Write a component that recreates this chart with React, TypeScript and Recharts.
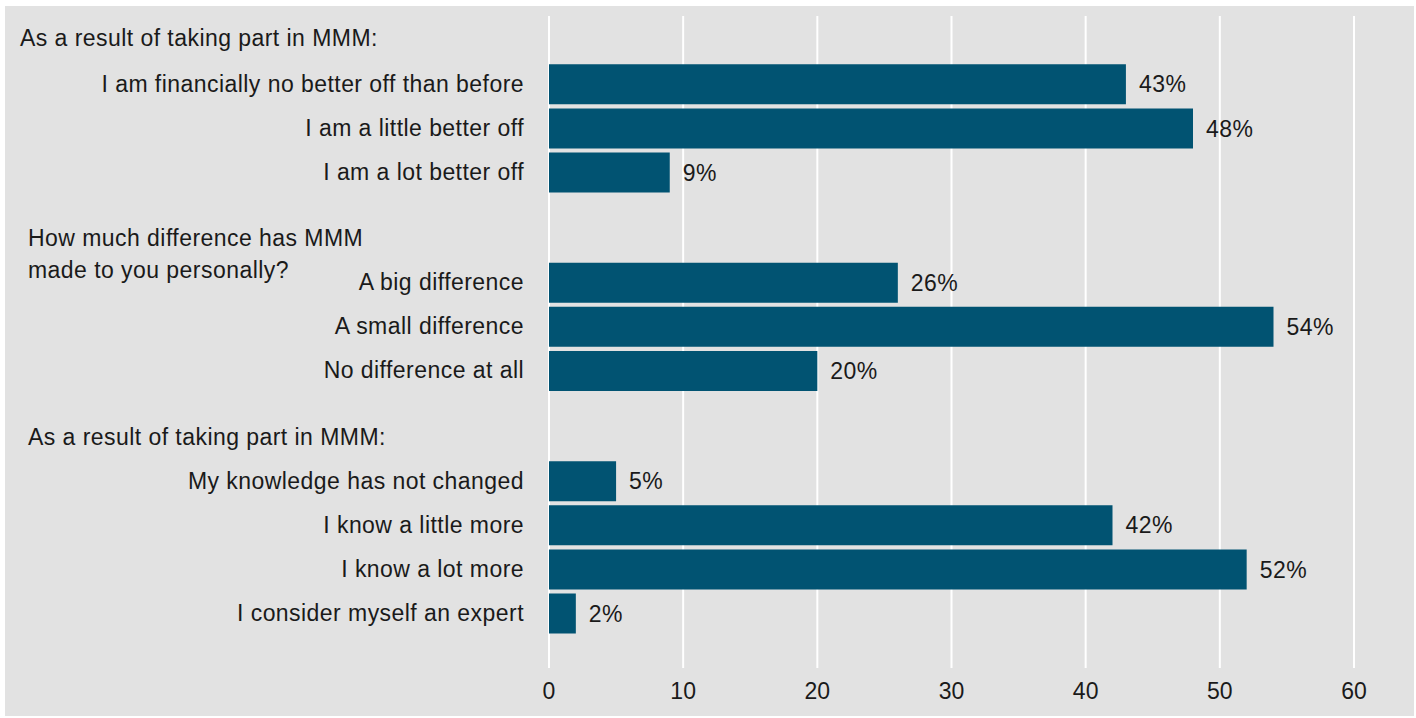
import React from "react";
import { BarChart, Bar, XAxis, YAxis, CartesianGrid, LabelList } from "recharts";

const groupHeaders: string[][] = [
  ["As a result of taking part in MMM:"],
  ["How much difference has MMM", "made to you personally?"],
  ["As a result of taking part in MMM:"],
];
const groupLabels: string[][] = [
  ["I am financially no better off than before", "I am a little better off", "I am a lot better off"],
  ["A big difference", "A small difference", "No difference at all"],
  ["My knowledge has not changed", "I know a little more", "I know a lot more", "I consider myself an expert"],
];
const groupValues: number[][] = [
  [43, 48, 9],
  [26, 54, 20],
  [5, 42, 52, 2],
];
const xTicks = [0, 10, 20, 30, 40, 50, 60];

// layout (in row-pitch units)
const FIRST_ROW = 1.55;
const GROUP_GAP = 2.5;
const DOMAIN_MAX = 14.785;
const HEADER_X = [15, 23, 23];
const HEADER_DY = [-2, -1, 0];
const FONT = "'Liberation Sans', Arial, Helvetica, sans-serif";
const TEXT = "#1a1a1a";
const BAR = "#015372";

type Row = { pos: number; label: string; value: number };
const rows: Row[] = [];
const headerPos: number[] = [];
{
  let p = FIRST_ROW;
  groupLabels.forEach((labels, gi) => {
    headerPos.push(p - 1);
    labels.forEach((label, i) => {
      rows.push({ pos: p, label, value: groupValues[gi][i] });
      p += 1;
    });
    p += GROUP_GAP - 1;
  });
}
const yTicks = [...headerPos, ...rows.map((r) => r.pos)].sort((a, b) => a - b);

const YTick = (props: any) => {
  const { x, y, payload } = props;
  const v = payload.value;
  const row = rows.find((r) => Math.abs(r.pos - v) < 1e-6);
  if (row) {
    return (
      <text x={x} y={y} dy="0.32em" textAnchor="end" fill={TEXT} fontSize={23} fontFamily={FONT} letterSpacing={0.45}>
        {row.label}
      </text>
    );
  }
  const hi = headerPos.findIndex((h) => Math.abs(h - v) < 1e-6);
  if (hi >= 0) {
    return (
      <g>
        {groupHeaders[hi].map((line, k) => (
          <text key={k} x={HEADER_X[hi]} y={y + HEADER_DY[hi] + k * 32} dy="0.355em" textAnchor="start" fill={TEXT} fontSize={23} fontFamily={FONT} letterSpacing={0.45}>
            {line}
          </text>
        ))}
      </g>
    );
  }
  return null;
};

export default function App() {
  return (
    <>
      <style>{`body{margin:0;}`}</style>
      <div style={{ position: "absolute", left: 5, top: 6, width: 1409, height: 710, background: "#e2e2e2" }}>
        <BarChart
          width={1409}
          height={710}
          data={rows}
          layout="vertical"
          margin={{ top: 10, right: 60, bottom: 0, left: 0 }}
        >
          <CartesianGrid horizontal={false} vertical={true} stroke="#ffffff" strokeWidth={2} />
          <XAxis
            type="number"
            domain={[0, 60]}
            ticks={xTicks}
            interval={0}
            axisLine={false}
            tickLine={false}
            tickSize={0}
            tickMargin={15}
            height={48}
            tick={{ fill: TEXT, fontSize: 23, fontFamily: FONT }}
          />
          <YAxis
            type="number"
            dataKey="pos"
            domain={[0, DOMAIN_MAX]}
            ticks={yTicks}
            interval={0}
            width={544}
            axisLine={false}
            tickLine={false}
            tickSize={0}
            tickMargin={25}
            tick={<YTick />}
          />
          <Bar dataKey="value" fill={BAR} barSize={40} isAnimationActive={false}>
            <LabelList
              dataKey="value"
              position="right"
              offset={13}
              formatter={(v: any) => `${v}%`}
              fill={TEXT}
              fontSize={23}
              fontFamily={FONT}
              letterSpacing={0.45}
            />
          </Bar>
        </BarChart>
      </div>
    </>
  );
}
